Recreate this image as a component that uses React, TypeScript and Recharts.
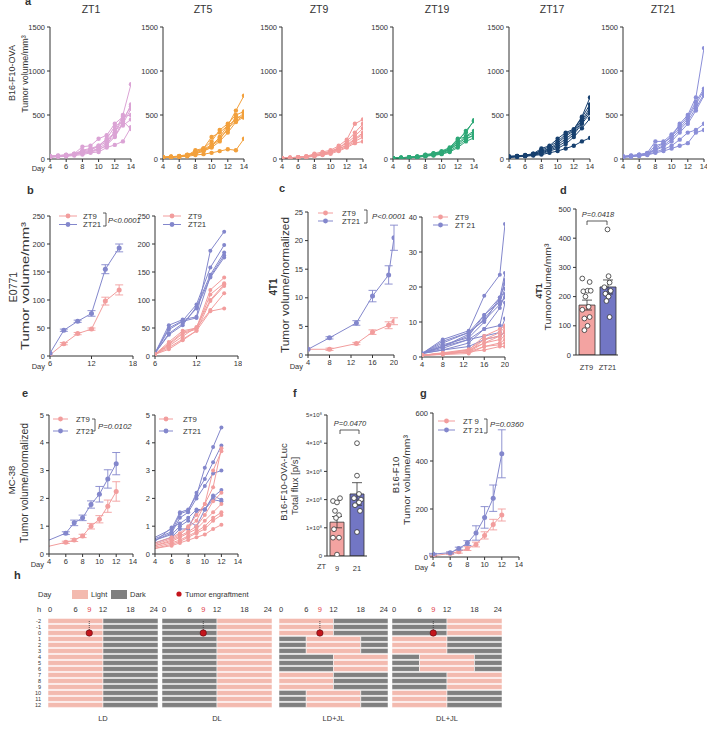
import React from "react";
import {
  LineChart, Line, XAxis, YAxis, ErrorBar, ComposedChart, Bar, Cell, Scatter,
  BarChart, ReferenceLine, ReferenceDot,
} from "recharts";

const FONT = "'Liberation Sans', Arial, Helvetica, sans-serif";
const INK = "#333333";
const PINK = "#f29d9d";
const BLUE = "#8387cc";
const LIGHT = "#f3baaf";
const DARK = "#808080";
const RED = "#c4151c";

// ---- a: B16-F10-OVA, single mice, days 4..14 ----
const A_DAYS = [4, 5, 6, 7, 8, 9, 10, 11, 12, 13, 14];
const A_ZT1 = [
  [30, 35, 45, 55, 80, 100, 150, 220, 300, 500, 850],
  [25, 30, 40, 50, 70, 90, 120, 180, 260, 420, 620],
  [35, 40, 50, 60, 90, 110, 140, 200, 300, 450, 600],
  [20, 30, 35, 50, 60, 80, 100, 160, 250, 400, 570],
  [30, 35, 45, 60, 140, 150, 230, 270, 400, 480, 500],
  [25, 30, 40, 55, 70, 85, 110, 150, 330, 380, 450],
  [20, 25, 30, 40, 50, 70, 80, 130, 160, 200, 360],
  [30, 35, 40, 55, 100, 120, 150, 230, 370, 430, 340],
];
const A_ZT5 = [
  [20, 25, 30, 40, 60, 90, 140, 250, 380, 550, 720],
  [20, 25, 30, 45, 80, 120, 200, 330, 400, 500, 540],
  [15, 20, 30, 40, 100, 120, 250, 300, 380, 450, 520],
  [20, 25, 35, 50, 70, 100, 150, 220, 350, 430, 500],
  [15, 20, 25, 35, 60, 90, 130, 200, 300, 420, 480],
  [20, 25, 30, 45, 80, 110, 160, 240, 330, 480, 470],
  [15, 20, 25, 30, 45, 55, 70, 90, 110, 100, 230],
];
const A_ZT9 = [
  [10, 15, 20, 30, 60, 80, 100, 150, 220, 400, 450],
  [10, 15, 20, 25, 40, 60, 80, 120, 200, 300, 400],
  [10, 15, 20, 30, 45, 65, 85, 130, 180, 260, 350],
  [10, 12, 18, 25, 40, 55, 75, 110, 160, 230, 300],
  [10, 15, 20, 28, 50, 60, 90, 120, 150, 220, 280],
  [10, 12, 16, 22, 35, 50, 70, 100, 140, 200, 250],
  [8, 10, 15, 20, 30, 45, 60, 90, 130, 180, 200],
];
const A_ZT19 = [
  [10, 15, 20, 25, 40, 60, 80, 120, 220, 300, 440],
  [10, 15, 20, 25, 45, 55, 75, 110, 200, 320, 430],
  [10, 12, 18, 22, 35, 50, 70, 100, 180, 260, 320],
  [10, 15, 20, 28, 50, 65, 90, 130, 230, 250, 300],
  [8, 12, 16, 20, 30, 45, 60, 90, 150, 220, 280],
  [10, 15, 20, 25, 40, 60, 80, 110, 170, 240, 260],
  [8, 10, 15, 20, 35, 40, 55, 80, 130, 200, 240],
];
const A_ZT17 = [
  [30, 35, 40, 60, 120, 150, 230, 300, 340, 480, 700],
  [25, 30, 40, 55, 100, 140, 200, 280, 330, 470, 620],
  [30, 35, 45, 60, 90, 120, 180, 260, 320, 440, 580],
  [20, 30, 35, 50, 80, 110, 160, 230, 300, 420, 550],
  [25, 30, 40, 55, 70, 100, 140, 200, 280, 400, 520],
  [20, 25, 35, 45, 60, 90, 120, 170, 250, 350, 460],
  [20, 25, 30, 40, 50, 70, 90, 120, 150, 200, 240],
];
const A_ZT21 = [
  [30, 35, 45, 60, 120, 180, 250, 400, 500, 700, 1260],
  [30, 40, 50, 70, 200, 200, 280, 380, 480, 650, 800],
  [25, 35, 45, 65, 150, 180, 260, 350, 460, 620, 780],
  [30, 35, 50, 60, 110, 150, 230, 330, 430, 580, 740],
  [25, 30, 40, 55, 100, 140, 200, 300, 400, 550, 720],
  [20, 30, 40, 50, 80, 110, 150, 220, 300, 330, 400],
  [20, 25, 35, 45, 70, 90, 120, 150, 180, 300, 330],
];
const A_TITLES = ["ZT1", "ZT5", "ZT9", "ZT19", "ZT17", "ZT21"];
const A_COLORS = ["#dba3d5", "#f2a03c", "#f29a9a", "#2ea877", "#17406f", "#8b8fd8"];
const A_SERIES = [A_ZT1, A_ZT5, A_ZT9, A_ZT19, A_ZT17, A_ZT21];

// ---- b: E0771 ----
const B_DAYS = [6, 8, 10, 12, 14, 16];
const B_ZT9 = [2, 22, 40, 48, 98, 118];
const B_ZT9_ERR = [0, 2, 2, 2, 7, 9];
const B_ZT21 = [5, 46, 62, 76, 155, 193];
const B_ZT21_ERR = [0, 2, 2, 5, 8, 7];
const B_ZT9_MICE = [
  [3, 25, 45, 50, 118, 140],
  [3, 20, 40, 48, 110, 130],
  [3, 18, 35, 52, 100, 128],
  [3, 15, 30, 45, 98, 125],
  [3, 22, 42, 50, 82, 112],
  [3, 12, 28, 45, 80, 85],
];
const B_ZT21_MICE = [
  [5, 55, 65, 70, 188, 222],
  [5, 50, 63, 92, 158, 198],
  [5, 38, 55, 88, 145, 185],
  [5, 47, 62, 68, 142, 180],
  [5, 40, 58, 85, 140, 176],
];

// ---- c: 4T1 ----
const C_DAYS = [4, 8, 13, 16, 19, 20];
const C_ZT9 = [1, 1, 2, 4, 5.2, 5.9];
const C_ZT9_ERR = [0, 0.2, 0.2, 0.4, 0.6, 0.6];
const C_ZT21 = [1, 3, 5.6, 10.3, 14, 20.5];
const C_ZT21_ERR = [0, 0.2, 0.4, 1, 1.6, 2.2];
const C_ZT21_MICE = [
  [1, 5, 7.5, 17.5, 23.5, 38],
  [1, 4.5, 7, 12, 17, 24],
  [1, 3, 6.5, 11, 16, 22],
  [1, 3.5, 5.5, 10, 17, 21],
  [1, 2.5, 5, 8, 14, 18],
  [1, 3, 6, 12, 16, 19.5],
  [1, 4, 7, 10.5, 15, 17],
  [1, 2, 4, 8, 9, 15.5],
  [1, 3, 5, 6, 7, 11],
  [1, 2, 3, 5, 6, 7],
];
const C_ZT9_MICE = [
  [0.5, 1, 2, 6, 8, 9],
  [0.5, 1.2, 2.2, 5, 7, 8.5],
  [0.5, 0.8, 1.5, 5, 6, 7.5],
  [0.5, 1, 2, 4, 6, 7],
  [0.5, 0.8, 1.5, 4, 5, 6],
  [0.5, 1, 1.5, 3, 4, 5],
  [0.5, 0.7, 1, 3, 3.5, 4],
  [0.5, 1, 1.5, 2, 3, 3],
];

// ---- d: 4T1 endpoint ----
const D_GROUPS = ["ZT9", "ZT21"];
const D_MEANS = [171, 233];
const D_ERRS = [17, 24];
const D_ZT9_PTS = [262, 250, 218, 220, 220, 200, 165, 155, 130, 125, 100, 85];
const D_ZT9_JIT = [-0.2, 0.15, -0.15, 0.05, 0.2, -0.05, 0.1, -0.2, 0.15, -0.1, 0.05, -0.1];
const D_ZT21_PTS = [430, 270, 248, 232, 220, 210, 200, 185, 130];
const D_ZT21_JIT = [0, 0.05, 0.1, -0.15, 0.15, -0.1, 0.05, -0.05, 0.1];

// ---- e: MC-38 ----
const E_DAYS = [4, 6, 7, 8, 9, 10, 11, 12];
const E_ZT9 = [0.28, 0.42, 0.5, 0.65, 1.0, 1.25, 1.72, 2.25];
const E_ZT9_ERR = [0, 0.04, 0.05, 0.06, 0.1, 0.13, 0.22, 0.35];
const E_ZT21 = [0.5, 0.75, 1.12, 1.3, 1.78, 2.15, 2.7, 3.25];
const E_ZT21_ERR = [0, 0.05, 0.1, 0.1, 0.13, 0.28, 0.33, 0.4];
const E_ZT21_MICE = [
  [0.6, 0.9, 1.5, 1.6, 2.1, 3.1, 3.85, 4.55],
  [0.55, 0.8, 1.45, 1.55, 2.2, 2.7, 3.3, 3.9],
  [0.5, 0.75, 1.3, 1.5, 2.0, 2.45, 2.9, 3.0],
  [0.45, 0.95, 1.1, 1.3, 1.6, 1.6, 2.1, 1.95],
  [0.5, 0.7, 1.0, 1.2, 1.0, 1.6, 2.05, 2.3],
  [0.4, 0.6, 0.9, 0.9, 1.55, 1.6, 1.95, 1.9],
];
const E_ZT9_MICE = [
  [0.4, 0.6, 0.75, 1.0, 1.4, 1.8, 2.4, 3.8],
  [0.35, 0.55, 0.7, 0.95, 1.2, 1.8, 3.0, 3.7],
  [0.3, 0.5, 0.65, 0.8, 1.0, 1.4, 1.9, 2.2],
  [0.3, 0.45, 0.6, 0.75, 0.9, 1.2, 1.5, 1.8],
  [0.25, 0.4, 0.5, 0.65, 0.8, 1.0, 1.3, 1.5],
  [0.2, 0.35, 0.45, 0.6, 0.75, 0.9, 1.2, 1.4],
  [0.2, 0.3, 0.4, 0.5, 0.6, 0.7, 0.9, 1.05],
];

// ---- f: B16-F10-OVA-Luc flux (x10^8) ----
const F_GROUPS = ["9", "21"];
const F_MEANS = [1.2, 2.2];
const F_ERRS = [0.2, 0.4];
const F_ZT9_PTS = [1.95, 2.05, 1.9, 1.6, 1.45, 1.35, 0.95, 0.65, 0.65, 0.05];
const F_ZT9_JIT = [-0.2, 0.15, 0, -0.1, 0.1, -0.05, -0.15, 0.1, -0.2, 0];
const F_ZT21_PTS = [4.0, 2.85, 2.2, 2.05, 2.0, 1.9, 1.8, 1.6, 0.85];
const F_ZT21_JIT = [0, 0, 0.1, -0.15, 0.2, 0.1, -0.1, 0.15, 0];

// ---- g: B16-F10 ----
const G_DAYS = [4, 6, 7, 8, 9, 10, 11, 12];
const G_ZT9 = [5, 15, 22, 35, 52, 90, 135, 175];
const G_ZT9_ERR = [2, 4, 6, 8, 10, 15, 22, 25];
const G_ZT21 = [12, 18, 35, 58, 100, 165, 245, 430];
const G_ZT21_ERR = [3, 4, 6, 10, 30, 45, 55, 100];

// ---- h: light schedules ----
const H_DAYS = ["-2", "-1", "0", "1", "2", "3", "4", "5", "6", "7", "8", "9", "10", "11", "12"];
const H_TICKS = [0, 6, 9, 12, 18, 24];
const PATTERNS: any = {
  LD: { len: [12, 12, 0], ph: ["L", "D", "D"] },
  DL: { len: [12, 12, 0], ph: ["D", "L", "L"] },
  SH: { len: [6, 12, 6], ph: ["D", "L", "D"] },
};
const H_SCHEDULES = [
  { name: "LD", groups: ["LD", "LD", "LD", "LD", "LD"] },
  { name: "DL", groups: ["DL", "DL", "DL", "DL", "DL"] },
  { name: "LD+JL", groups: ["LD", "SH", "DL", "LD", "SH"] },
  { name: "DL+JL", groups: ["DL", "LD", "SH", "DL", "LD"] },
];

// layout
const YW = 30, XH = 16, MT = 4, MR = 4;
const tickStyle = { fontSize: 7.5, fill: INK, fontFamily: FONT };

function xAxis(domain: number[], ticks: number[]) {
  return (
    <XAxis type="number" dataKey="x" domain={domain} ticks={ticks} interval={0} height={XH}
      tick={tickStyle} tickSize={3} tickMargin={2} tickLine={{ stroke: INK }} axisLine={{ stroke: INK }} allowDataOverflow />
  );
}
function yAxis(domain: number[], ticks: number[], fmt?: any, fs = 7.5) {
  return (
    <YAxis type="number" domain={domain} ticks={ticks} interval={0} width={YW} tickFormatter={fmt}
      tick={{ ...tickStyle, fontSize: fs }} tickSize={3} tickMargin={2} tickLine={{ stroke: INK }} axisLine={{ stroke: INK }} allowDataOverflow />
  );
}
function dotFor(color: string, r: number, skipFirst: boolean) {
  return (p: any) => {
    const k = `${p.dataKey}-${p.index}`;
    if (skipFirst && p.index === 0) return <g key={k} />;
    return <circle key={k} cx={p.cx} cy={p.cy} r={r} fill={color} />;
  };
}

function MicePanel({ box, xs, groups, xDomain, xTicks, yDomain, yTicks, r = 2, skipFirst = false }: any) {
  const rows = xs.map((x: number, i: number) => {
    const row: any = { x };
    groups.forEach((g: any, gi: number) => g.series.forEach((s: number[], j: number) => { row[`g${gi}m${j}`] = s[i]; }));
    return row;
  });
  const W = box.w + YW + MR, H = box.h + MT + XH;
  return (
    <div style={{ position: "absolute", left: box.x - YW, top: box.y - MT, width: W, height: H }}>
      <LineChart width={W} height={H} data={rows} margin={{ top: MT, right: MR, left: 0, bottom: 0 }}>
        {xAxis(xDomain, xTicks)}
        {yAxis(yDomain, yTicks)}
        {groups.flatMap((g: any, gi: number) => g.series.map((_: any, j: number) => (
          <Line key={`g${gi}m${j}`} dataKey={`g${gi}m${j}`} stroke={g.color} strokeWidth={1}
            dot={dotFor(g.color, r, skipFirst)} activeDot={false} isAnimationActive={false} />
        )))}
      </LineChart>
    </div>
  );
}

function MeanPanel({ box, xs, zt9, zt9e, zt21, zt21e, xDomain, xTicks, yDomain, yTicks, skipFirst = false }: any) {
  const rows = xs.map((x: number, i: number) => ({ x, a: zt21[i], ae: zt21e[i], b: zt9[i], be: zt9e[i] }));
  const W = box.w + YW + MR, H = box.h + MT + XH;
  return (
    <div style={{ position: "absolute", left: box.x - YW, top: box.y - MT, width: W, height: H }}>
      <LineChart width={W} height={H} data={rows} margin={{ top: MT, right: MR, left: 0, bottom: 0 }}>
        {xAxis(xDomain, xTicks)}
        {yAxis(yDomain, yTicks)}
        <Line dataKey="b" stroke={PINK} strokeWidth={1} dot={dotFor(PINK, 2.5, skipFirst)} activeDot={false} isAnimationActive={false}>
          <ErrorBar dataKey="be" width={4} stroke={PINK} strokeWidth={0.9} />
        </Line>
        <Line dataKey="a" stroke={BLUE} strokeWidth={1} dot={dotFor(BLUE, 2.5, skipFirst)} activeDot={false} isAnimationActive={false}>
          <ErrorBar dataKey="ae" width={4} stroke={BLUE} strokeWidth={0.9} />
        </Line>
      </LineChart>
    </div>
  );
}

function BarDots({ box, cats, means, errs, fills, vals, jits, yDomain, yTicks, yFmt, yFs, barSize }: any) {
  const rows = cats.map((c: string, i: number) => ({ g: c, v: means[i], e: errs[i] }));
  const pts = vals.flatMap((list: number[], gi: number) => list.map((y, k) => ({ jx: gi + jits[gi][k], y })));
  const W = box.w + YW + MR, H = box.h + MT + XH;
  return (
    <div style={{ position: "absolute", left: box.x - YW, top: box.y - MT, width: W, height: H }}>
      <ComposedChart width={W} height={H} data={rows} margin={{ top: MT, right: MR, left: 0, bottom: 0 }}>
        <XAxis xAxisId="c" dataKey="g" type="category" height={XH} tick={tickStyle} tickLine={false} tickMargin={4} axisLine={{ stroke: INK }} interval={0} />
        <XAxis xAxisId="n" dataKey="jx" type="number" domain={[-0.5, 1.5]} hide />
        {yAxis(yDomain, yTicks, yFmt, yFs)}
        <Bar xAxisId="c" dataKey="v" barSize={barSize} stroke={INK} strokeWidth={0.8} isAnimationActive={false}>
          {rows.map((_: any, i: number) => <Cell key={i} fill={fills[i]} />)}
          <ErrorBar dataKey="e" width={5} stroke={INK} strokeWidth={0.8} />
        </Bar>
        <Scatter xAxisId="n" data={pts} dataKey="y" isAnimationActive={false}
          shape={(p: any) => <circle cx={p.cx} cy={p.cy} r={2.4} fill="#fff" stroke={INK} strokeWidth={0.8} />} />
      </ComposedChart>
    </div>
  );
}

function Grid({ box, groups, days }: any) {
  const rows = H_DAYS.map((d, i) => {
    const p = PATTERNS[groups[Math.floor(i / 3)]];
    return { day: d, s0: p.len[0], s1: p.len[1], s2: p.len[2], ph: p.ph };
  });
  const yw = days ? 14 : 0;
  const xh = 12;
  const hourTick = (p: any) => {
    const v = p.payload.value;
    return (
      <text x={p.x} y={6} textAnchor={v === 0 ? "start" : v === 24 ? "end" : "middle"} fontSize={7.5} fontFamily={FONT}
        fill={v === 9 ? "#e2404a" : INK}>{v}</text>
    );
  };
  return (
    <div style={{ position: "absolute", left: box.x - yw, top: box.y - xh }}>
      <BarChart layout="vertical" data={rows} width={box.w + yw} height={box.h + xh}
        margin={{ top: 0, right: 0, left: 0, bottom: 0 }} barCategoryGap={0.4}>
        <XAxis type="number" orientation="top" domain={[0, 24]} ticks={H_TICKS} interval={0} height={xh}
          axisLine={false} tickLine={false} tick={hourTick} />
        <YAxis type="category" dataKey="day" width={yw} hide={!days} axisLine={false} tickLine={false}
          tick={{ fontSize: 5.5, fill: INK, fontFamily: FONT }} tickMargin={1} interval={0} />
        {["s0", "s1", "s2"].map((k, si) => (
          <Bar key={k} dataKey={k} stackId="h" isAnimationActive={false} stroke="#fff" strokeWidth={0.5}>
            {rows.map((r, i) => <Cell key={i} fill={r.ph[si] === "L" ? LIGHT : DARK} />)}
          </Bar>
        ))}
        <ReferenceLine segment={[{ x: 9, y: "-2" }, { x: 9, y: "0" }]} stroke={INK} strokeDasharray="1 1" strokeWidth={0.8} />
        <ReferenceDot x={9} y="0" r={3.2} fill={RED} stroke="#5b0b10" strokeWidth={0.6} />
      </BarChart>
    </div>
  );
}

function Txt({ x, y, s = 7.5, a = "start", it, b, c = INK, children }: any) {
  return (
    <text x={x} y={y} fontSize={s} textAnchor={a} fontStyle={it ? "italic" : "normal"}
      fontWeight={b ? "bold" : "normal"} fill={c} fontFamily={FONT}>{children}</text>
  );
}
function VTxt({ x, y, s = 9, len, b, children }: any) {
  return (
    <text transform={`translate(${x},${y}) rotate(-90)`} fontSize={s} textAnchor="middle"
      fontWeight={b ? "bold" : "normal"} fill={INK} fontFamily={FONT}
      textLength={len} lengthAdjust={len ? "spacingAndGlyphs" : undefined}>{children}</text>
  );
}
function Leg({ x1, x2, y, color, label, tx }: any) {
  return (
    <g>
      <line x1={x1} x2={x2} y1={y} y2={y} stroke={color} strokeWidth={1} />
      <circle cx={(x1 + x2) / 2} cy={y} r={2.4} fill={color} />
      <Txt x={tx} y={y + 2.7} s={7.8}>{label}</Txt>
    </g>
  );
}
function Brk({ x, y1, y2 }: any) {
  return <path d={`M${x - 3},${y1}H${x}V${y2}H${x - 3}`} fill="none" stroke={INK} strokeWidth={0.8} />;
}
function TopBrk({ x1, x2, y }: any) {
  return <path d={`M${x1},${y + 4}V${y}H${x2}V${y + 4}`} fill="none" stroke={INK} strokeWidth={0.8} />;
}

const A_X = [50, 163, 282, 393, 509, 623];
const A_TX = [91, 203, 319, 437, 552, 663];
const G_BOXES = [
  { x: 48, y: 618, w: 110, h: 90 },
  { x: 162, y: 618, w: 110, h: 90 },
  { x: 279, y: 618, w: 109, h: 90 },
  { x: 392, y: 618, w: 110, h: 90 },
];
const fluxFmt = (v: number) => (v === 0 ? "0" : `${v}×10⁸`);

export default function App() {
  return (
    <div style={{ position: "absolute", left: 0, top: 0, width: 707, height: 735, background: "#fff", overflow: "hidden" }}>
      {A_SERIES.map((s, i) => (
        <MicePanel key={i} box={{ x: A_X[i], y: 27, w: 81, h: 132 }} xs={A_DAYS}
          groups={[{ color: A_COLORS[i], series: s }]} xDomain={[4, 14]} xTicks={[4, 6, 8, 10, 12, 14]}
          yDomain={[0, 1500]} yTicks={[0, 500, 1000, 1500]} r={2.2} />
      ))}

      <MeanPanel box={{ x: 50, y: 216, w: 83, h: 140 }} xs={B_DAYS} zt9={B_ZT9} zt9e={B_ZT9_ERR} zt21={B_ZT21} zt21e={B_ZT21_ERR}
        xDomain={[6, 18]} xTicks={[6, 12, 18]} yDomain={[0, 250]} yTicks={[0, 50, 100, 150, 200, 250]} />
      <MicePanel box={{ x: 155, y: 216, w: 83, h: 140 }} xs={B_DAYS}
        groups={[{ color: BLUE, series: B_ZT21_MICE }, { color: PINK, series: B_ZT9_MICE }]}
        xDomain={[6, 18]} xTicks={[6, 12, 18]} yDomain={[0, 250]} yTicks={[0, 50, 100, 150, 200, 250]} />

      <MeanPanel box={{ x: 308, y: 212, w: 86, h: 143 }} xs={C_DAYS} zt9={C_ZT9} zt9e={C_ZT9_ERR} zt21={C_ZT21} zt21e={C_ZT21_ERR}
        xDomain={[4, 20]} xTicks={[4, 8, 12, 16, 20]} yDomain={[0, 25]} yTicks={[0, 5, 10, 15, 20, 25]} />
      <MicePanel box={{ x: 422, y: 217, w: 83, h: 140 }} xs={C_DAYS}
        groups={[{ color: BLUE, series: C_ZT21_MICE }, { color: PINK, series: C_ZT9_MICE }]}
        xDomain={[4, 20]} xTicks={[4, 8, 12, 16, 20]} yDomain={[0, 40]} yTicks={[0, 10, 20, 30, 40]} />

      <BarDots box={{ x: 576, y: 209, w: 42, h: 146 }} cats={D_GROUPS} means={D_MEANS} errs={D_ERRS}
        fills={["#f3a3a1", "#7276c4"]} vals={[D_ZT9_PTS, D_ZT21_PTS]} jits={[D_ZT9_JIT, D_ZT21_JIT]}
        yDomain={[0, 500]} yTicks={[0, 100, 200, 300, 400, 500]} yFs={7.5} barSize={16} />

      <MeanPanel box={{ x: 49, y: 415, w: 84, h: 139 }} xs={E_DAYS} zt9={E_ZT9} zt9e={E_ZT9_ERR} zt21={E_ZT21} zt21e={E_ZT21_ERR}
        xDomain={[4, 14]} xTicks={[4, 6, 8, 10, 12, 14]} yDomain={[0, 5]} yTicks={[0, 1, 2, 3, 4, 5]} skipFirst />
      <MicePanel box={{ x: 155, y: 415, w: 83, h: 139 }} xs={E_DAYS}
        groups={[{ color: BLUE, series: E_ZT21_MICE }, { color: PINK, series: E_ZT9_MICE }]}
        xDomain={[4, 14]} xTicks={[4, 6, 8, 10, 12, 14]} yDomain={[0, 5]} yTicks={[0, 1, 2, 3, 4, 5]} skipFirst />

      <BarDots box={{ x: 327, y: 415, w: 40, h: 141 }} cats={F_GROUPS} means={F_MEANS} errs={F_ERRS}
        fills={["#f3a3a1", "#7276c4"]} vals={[F_ZT9_PTS, F_ZT21_PTS]} jits={[F_ZT9_JIT, F_ZT21_JIT]}
        yDomain={[0, 5]} yTicks={[0, 1, 2, 3, 4, 5]} yFmt={fluxFmt} yFs={6} barSize={14} />

      <MeanPanel box={{ x: 433, y: 413, w: 86, h: 144 }} xs={G_DAYS} zt9={G_ZT9} zt9e={G_ZT9_ERR} zt21={G_ZT21} zt21e={G_ZT21_ERR}
        xDomain={[4, 14]} xTicks={[4, 6, 8, 10, 12, 14]} yDomain={[0, 600]} yTicks={[0, 200, 400, 600]} />

      {H_SCHEDULES.map((s, i) => (
        <Grid key={s.name} box={G_BOXES[i]} groups={s.groups} days={i === 0} />
      ))}

      <svg width={707} height={735} style={{ position: "absolute", left: 0, top: 0, pointerEvents: "none" }}>
        {/* panel letters */}
        <Txt x={25} y={5} s={11} b>a</Txt>
        <Txt x={27} y={194} s={11} b>b</Txt>
        <Txt x={279} y={192} s={11} b>c</Txt>
        <Txt x={560} y={194} s={11} b>d</Txt>
        <Txt x={22} y={397} s={11} b>e</Txt>
        <Txt x={293} y={397} s={11} b>f</Txt>
        <Txt x={420} y={397} s={11} b>g</Txt>
        <Txt x={14} y={579} s={11} b>h</Txt>

        {/* a */}
        {A_TITLES.map((t, i) => <Txt key={t} x={A_TX[i]} y={13} s={10.5} a="middle">{t}</Txt>)}
        <VTxt x={15} y={73} s={9}>B16-F10-OVA</VTxt>
        <VTxt x={28} y={74} s={9}>Tumor volume/mm³</VTxt>
        <Txt x={45} y={171} a="end">Day</Txt>

        {/* b */}
        <VTxt x={17} y={287} s={10.5}>E0771</VTxt>
        <VTxt x={29} y={286} s={11} len={128}>Tumor volume/mm³</VTxt>
        <Txt x={45} y={369} a="end">Day</Txt>
        <Leg x1={59} x2={77} y={216} color={PINK} label="ZT9" tx={83} />
        <Leg x1={59} x2={77} y={224.5} color={BLUE} label="ZT21" tx={83} />
        <Brk x={106} y1={213} y2={226} />
        <Txt x={108} y={223} s={7.6} it>P&lt;0.0001</Txt>
        <Leg x1={163} x2={181} y={216} color={PINK} label="ZT9" tx={188} />
        <Leg x1={163} x2={181} y={224.5} color={BLUE} label="ZT21" tx={188} />

        {/* c */}
        <VTxt x={277} y={287} s={10} b>4T1</VTxt>
        <VTxt x={289} y={285} s={11} len={136}>Tumor volume/normalized</VTxt>
        <Txt x={303} y={369} a="end">Day</Txt>
        <Leg x1={318} x2={333} y={213} color={PINK} label="ZT9" tx={342} />
        <Leg x1={318} x2={333} y={221} color={BLUE} label="ZT21" tx={342} />
        <Brk x={367} y1={210} y2={223} />
        <Txt x={372} y={219} s={7.8} it>P&lt;0.0001</Txt>
        <Leg x1={433} x2={448} y={217} color={PINK} label="ZT9" tx={455} />
        <Leg x1={433} x2={448} y={225} color={BLUE} label="ZT 21" tx={455} />

        {/* d */}
        <VTxt x={542} y={291} s={9} b>4T1</VTxt>
        <VTxt x={551} y={287} s={9.5} len={87}>Tumorvolume/mm³</VTxt>
        <TopBrk x1={587} x2={607} y={221} />
        <Txt x={598} y={217} s={7.5} a="middle" it>P=0.0418</Txt>

        {/* e */}
        <VTxt x={15} y={480} s={9.5}>MC-38</VTxt>
        <VTxt x={28} y={483} s={10.5} len={120}>Tumor volume/normalized</VTxt>
        <Txt x={44} y={567} a="end">Day</Txt>
        <Leg x1={53} x2={68} y={419} color={PINK} label="ZT9" tx={76} />
        <Leg x1={53} x2={68} y={431} color={BLUE} label="ZT21" tx={76} />
        <Brk x={95} y1={419} y2={431} />
        <Txt x={98} y={429} s={7.8} it>P=0.0102</Txt>
        <Leg x1={159} x2={173} y={419} color={PINK} label="ZT9" tx={183} />
        <Leg x1={159} x2={173} y={431} color={BLUE} label="ZT21" tx={183} />

        {/* f */}
        <VTxt x={287} y={482} s={9.5}>B16-F10-OVA-Luc</VTxt>
        <VTxt x={298} y={486} s={9.5}>Total flux [p/s]</VTxt>
        <TopBrk x1={340} x2={359} y={430} />
        <Txt x={350} y={426} s={7.5} a="middle" it>P=0.0470</Txt>
        <Txt x={317} y={569}>ZT</Txt>

        {/* g */}
        <VTxt x={399} y={475} s={9.5}>B16-F10</VTxt>
        <VTxt x={410} y={480} s={9.5} len={90}>Tumor volume/mm³</VTxt>
        <Txt x={428} y={570} a="end">Day</Txt>
        <Leg x1={438} x2={455} y={421} color={PINK} label="ZT 9" tx={463} />
        <Leg x1={438} x2={455} y={430} color={BLUE} label="ZT 21" tx={463} />
        <Brk x={487} y1={419} y2={433} />
        <Txt x={490} y={427} s={7.8} it>P=0.0360</Txt>

        {/* h */}
        <Txt x={38} y={597}>Day</Txt>
        <rect x={72} y={590} width={16} height={9} fill={LIGHT} />
        <Txt x={91} y={597}>Light</Txt>
        <rect x={111} y={590} width={16} height={9} fill={DARK} />
        <Txt x={130} y={597}>Dark</Txt>
        <circle cx={179} cy={594} r={2.6} fill={RED} />
        <Txt x={185} y={597}>Tumor engraftment</Txt>
        <Txt x={37} y={612}>h</Txt>
        {H_SCHEDULES.map((s, i) => (
          <Txt key={s.name} x={G_BOXES[i].x + G_BOXES[i].w / 2} y={721} a="middle">{s.name}</Txt>
        ))}
      </svg>
    </div>
  );
}
